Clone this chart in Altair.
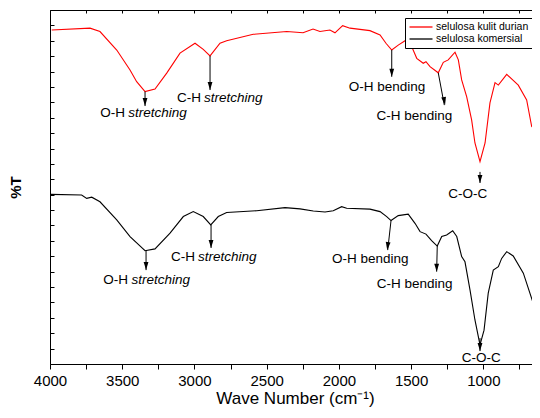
import altair as alt
import pandas as pd

# ---- data ----
red_wn = [3988, 3723, 3654, 3538, 3446, 3400, 3342, 3273, 3192, 3100, 2996, 2939, 2892, 2823, 2777,
          2593, 2361, 2248, 2179, 2131, 2062, 2027, 1974, 1923, 1785, 1715, 1674, 1634, 1589, 1542,
          1496, 1461, 1416, 1397, 1369, 1312, 1277, 1243, 1196, 1173, 1150, 1115, 1081, 1058, 1023,
          988, 954, 919, 896, 838, 758, 700, 665, 631, 608]
red_t = [108.5, 109.1, 108.0, 102.0, 95.5, 91.7, 88.5, 89.3, 94.5, 101.0, 104.2, 102.2, 100.1, 104.2, 105.0,
         107.1, 108.0, 107.6, 108.8, 108.0, 108.5, 107.6, 109.9, 109.1, 108.3, 106.9, 104.2, 102.0, 103.6, 105.0,
         103.1, 99.3, 97.7, 98.2, 96.6, 94.6, 98.0, 98.8, 101.3, 98.8, 92.3, 86.8, 79.3, 71.8, 65.7,
         71.8, 84.8, 91.4, 90.6, 94.1, 90.6, 85.8, 77.1, 76.6, 64.1]

black_wn = [3993, 3781, 3746, 3711, 3654, 3538, 3446, 3342, 3273, 3169, 3077, 3008, 2939, 2887, 2835,
            2777, 2569, 2373, 2269, 2177, 2096, 2039, 1981, 1946, 1785, 1715, 1669, 1639, 1589, 1520,
            1473, 1438, 1397, 1358, 1319, 1288, 1254, 1212, 1184, 1150, 1127, 1092, 1058, 1023, 995,
            966, 931, 896, 873, 838, 793, 723, 654, 608]
black_t = [55.1, 54.9, 53.8, 54.2, 52.7, 46.8, 41.4, 36.8, 37.4, 42.5, 47.9, 49.5, 47.9, 45.2, 47.9,
           49.2, 49.8, 50.8, 50.4, 49.7, 49.4, 49.8, 51.1, 50.6, 50.3, 49.5, 47.9, 46.6, 48.2, 48.7,
           45.7, 43.0, 42.2, 40.1, 38.3, 41.4, 41.9, 43.3, 41.4, 34.9, 33.2, 24.0, 14.3, 6.2, 11.0,
           23.0, 30.5, 31.6, 34.3, 36.5, 35.1, 29.5, 19.7, 12.1]

series_names = ["selulosa kulit durian", "selulosa komersial"]
series_colors = ["#ff0000", "#000000"]

# arrows (start -> tip)
arrow_x = [3342, 2892, 1634, 1312, 1023, 3335, 2885, 1639, 1319, 1023]
arrow_y = [88.5, 100.1, 102.0, 94.6, 62.4, 36.8, 45.2, 46.6, 38.3, 8.4]
arrow_x2 = [3342, 2892, 1634, 1270, 1023, 3335, 2885, 1662, 1323, 1023]
arrow_y2 = [83.8, 89.0, 93.3, 84.1, 58.8, 30.5, 37.7, 37.0, 30.0, 4.2]
arrow_angle = [0, 0, 0, 349.5, 0, 0, 0, 6.4, 0, 0]

# plain labels (centered)
lbl_text = ["O-H bending", "C-H bending", "C-O-C", "O-H bending", "C-H bending", "C-O-C"]
lbl_x = [1667, 1478, 1107, 1783, 1475, 1015]
lbl_y = [90.1, 80.6, 55.2, 34.0, 26.0, 1.9]

# "X-H stretching" labels: upright prefix + italic word
pre_text = ["O-H", "C-H", "O-H", "C-H"]
pre_x = [3481, 2955, 3460, 2996]
str_x = [3458, 2934, 3436, 2975]
str_y = [81.4, 86.5, 27.3, 34.7]
str_word = ["stretching", "stretching", "stretching", "stretching"]

x_ticks = [4000, 3750, 3500, 3250, 3000, 2750, 2500, 2250, 2000, 1750, 1500, 1250, 1000, 750]
y_ticks = list(range(0, 116, 5))

# ---- tables ----
curves = pd.DataFrame({
    "wn": red_wn + black_wn,
    "t": red_t + black_t,
    "series": [series_names[0]] * len(red_wn) + [series_names[1]] * len(black_wn),
})
arrows = pd.DataFrame({"x": arrow_x, "y": arrow_y, "x2": arrow_x2, "y2": arrow_y2, "angle": arrow_angle})
labels = pd.DataFrame({"x": lbl_x, "y": lbl_y, "text": lbl_text})
prefix = pd.DataFrame({"x": pre_x, "y": str_y, "text": pre_text})
words = pd.DataFrame({"x": str_x, "y": str_y, "text": str_word})

FONT = "Liberation Sans"
xs = alt.Scale(domain=[4000, 663], nice=False, zero=False)
ys = alt.Scale(domain=[0, 115], nice=False, zero=False)

bottom_axis = alt.Axis(values=x_ticks, labelExpr="datum.value % 500 == 0 ? datum.value : ''",
                       title="Wave Number (cm⁻¹)", titleFont=FONT, titleFontSize=17, titleFontWeight="normal",
                       titleColor="black", titlePadding=2, labelFont=FONT, labelFontSize=15, labelColor="black",
                       labelPadding=4, labelFlush=False, tickSize=5, tickColor="black", domainColor="black",
                       grid=False, labelOverlap=False, titleX=245)
left_axis = alt.Axis(labels=False, ticks=False, title="%T", titleFont=FONT, titleFontSize=15,
                     titleFontWeight="bold", titleColor="black", titlePadding=27, domainColor="black", grid=False)
top_axis = alt.Axis(orient="bottom", offset=-354, values=x_ticks, labels=False, title=None, tickSize=3,
                    tickColor="black", domainColor="black", grid=False)
tick_axis = alt.Axis(orient="right", offset=-482, values=y_ticks, labels=False, title=None, tickSize=4,
                     tickColor="black", domain=False, grid=False)

lines = alt.Chart(curves).mark_line(strokeWidth=1.1).encode(
    x=alt.X("wn:Q", scale=xs, axis=bottom_axis),
    y=alt.Y("t:Q", scale=ys, axis=left_axis),
    color=alt.Color("series:N", scale=alt.Scale(domain=series_names, range=series_colors),
                    legend=alt.Legend(title=None, orient="none", legendX=355, legendY=8,
                                      symbolType="M-2.3,0H2.3", symbolSize=100, symbolStrokeWidth=1.3,
                                      symbolOffset=7, labelOffset=9, labelFont=FONT, labelFontSize=10.5,
                                      labelColor="black", strokeColor="black", fillColor="white",
                                      padding=3, rowPadding=0)),
    order=alt.Order("series:N"),
)

ghost = alt.Chart(curves).mark_line(opacity=0).encode(
    x=alt.X("wn:Q", scale=xs, axis=top_axis),
    y=alt.Y("t:Q", scale=ys, axis=tick_axis),
    detail="series:N",
)

shafts = alt.Chart(arrows).mark_rule(color="black", strokeWidth=1).encode(
    x=alt.X("x:Q", scale=xs, axis=None), y=alt.Y("y:Q", scale=ys, axis=None),
    x2="x2:Q", y2="y2:Q",
)
heads = alt.Chart(arrows).mark_point(shape="M-0.6,-1L0.6,-1L0,1Z", filled=True, color="black",
                                     opacity=1, size=64, yOffset=-4).encode(
    x=alt.X("x2:Q", scale=xs, axis=None), y=alt.Y("y2:Q", scale=ys, axis=None),
    angle=alt.Angle("angle:Q", scale=None),
)

text_plain = alt.Chart(labels).mark_text(font=FONT, fontSize=13.5, color="black", align="center",
                                         baseline="middle").encode(
    x=alt.X("x:Q", scale=xs, axis=None), y=alt.Y("y:Q", scale=ys, axis=None), text="text:N")
text_pre = alt.Chart(prefix).mark_text(font=FONT, fontSize=13.5, color="black", align="right",
                                       baseline="middle").encode(
    x=alt.X("x:Q", scale=xs, axis=None), y=alt.Y("y:Q", scale=ys, axis=None), text="text:N")
text_it = alt.Chart(words).mark_text(font=FONT, fontSize=13.5, color="black", align="left",
                                     baseline="middle", fontStyle="italic").encode(
    x=alt.X("x:Q", scale=xs, axis=None), y=alt.Y("y:Q", scale=ys, axis=None), text="text:N")

chart = alt.layer(lines, ghost, shafts, heads, text_plain, text_pre, text_it).resolve_axis(
    x="independent", y="independent"
).properties(
    width=482, height=354,
    padding={"left": 42, "top": 2, "right": 0, "bottom": 46},
    autosize=alt.AutoSizeParams(type="none"),
    background="white",
).configure_view(strokeWidth=0)

chart.save("out.html", embed_options={"renderer": "svg", "actions": False})
